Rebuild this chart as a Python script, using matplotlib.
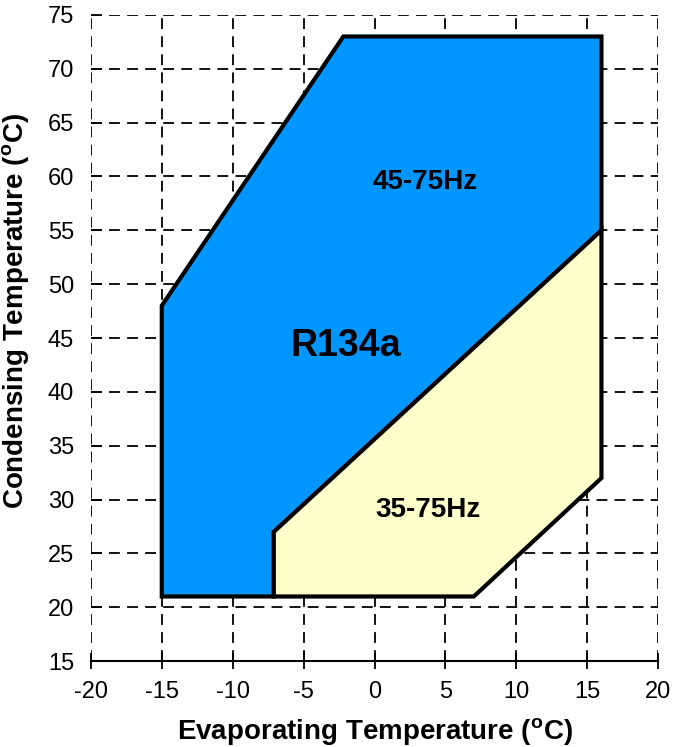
import matplotlib
matplotlib.use('Agg')
import matplotlib.pyplot as plt
from matplotlib.patches import Polygon

plt.rcParams['font.family'] = ['Liberation Sans', 'DejaVu Sans']
plt.rcParams['axes.unicode_minus'] = False

# Envolvente 45-75Hz (zona azul)
azul_x = [-15, -15, -2.2, 16, 16, -7.1, -7.1]
azul_y = [21, 48, 73, 73, 55, 27, 21]

# Envolvente 35-75Hz (zona amarilla)
amarillo_x = [-7.1, -7.1, 16, 16, 7]
amarillo_y = [21, 27, 55, 32, 21]

etiquetas = ['45-75Hz', 'R134a', '35-75Hz']
etiq_x = [3.6, -2.0, 3.8]
etiq_y = [59.5, 44.3, 29.0]
etiq_size = [20, 27, 20]

xticks = list(range(-20, 21, 5))
yticks = list(range(15, 76, 5))

fig = plt.figure(figsize=(6.73, 7.47), dpi=100)
ax = fig.add_axes([0.135, 0.115, 0.843, 0.865])

ax.add_patch(Polygon(list(zip(azul_x, azul_y)), closed=True,
                     facecolor='#0096FF', edgecolor='black', linewidth=3, zorder=3))
ax.add_patch(Polygon(list(zip(amarillo_x, amarillo_y)), closed=True,
                     facecolor='#FFFFCC', edgecolor='black', linewidth=3, zorder=4))

for t, x, y, s in zip(etiquetas, etiq_x, etiq_y, etiq_size):
    ax.text(x, y, t, ha='center', va='center', fontsize=s, fontweight='bold', zorder=5)

ax.set_xlim(-20, 20)
ax.set_ylim(15, 75)
ax.set_xticks(xticks)
ax.set_yticks(yticks)
ax.grid(True, color='black', linestyle=(0, (6, 4)), linewidth=1.3, zorder=1)
ax.set_axisbelow(True)

for lado in ['top', 'right', 'left']:
    ax.spines[lado].set_visible(False)
ax.spines['bottom'].set_linewidth(1.5)

ax.tick_params(axis='x', direction='inout', length=12, width=1.3, labelsize=17, pad=8)
ax.tick_params(axis='y', direction='in', length=8, width=1.3, labelsize=17, pad=12)

ax.set_xlabel('Evaporating Temperature ($^\\mathregular{o}$C)', fontsize=20, fontweight='bold', labelpad=10)
ax.set_ylabel('Condensing Temperature ($^\\mathregular{o}$C)', fontsize=20, fontweight='bold')
ax.yaxis.set_label_coords(-0.103, 0.542)

fig.savefig('out.png', dpi=100)
